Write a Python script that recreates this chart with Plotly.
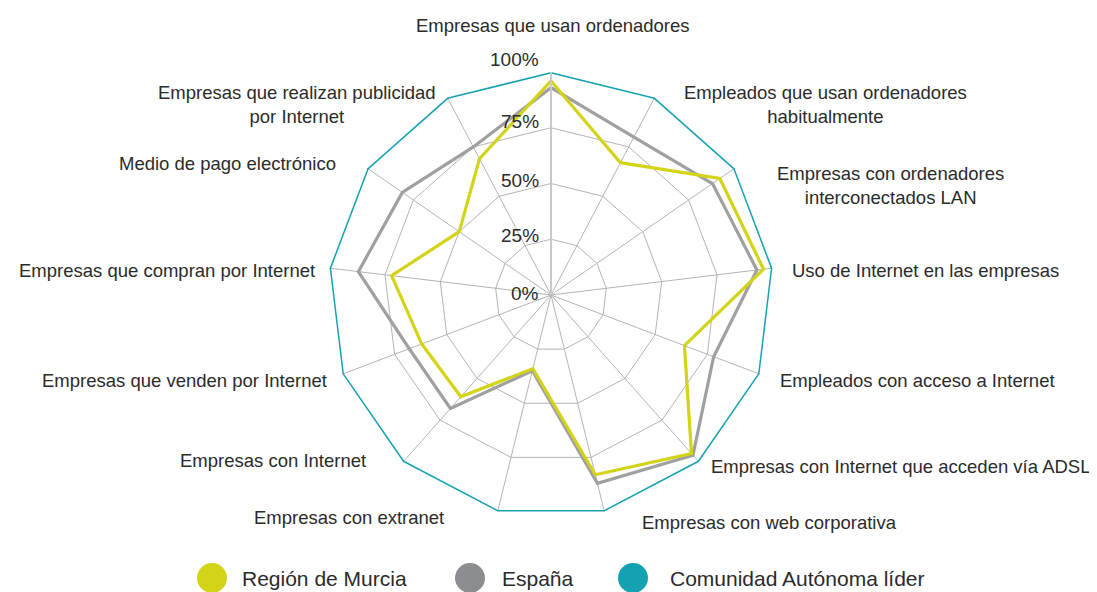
import plotly.graph_objects as go

# ---------------- data ----------------
categories = [
    "Empresas que usan ordenadores",
    "Empleados que usan ordenadores<br>habitualmente",
    "Empresas con ordenadores<br>interconectados LAN",
    "Uso de Internet en las empresas",
    "Empleados con acceso a Internet",
    "Empresas con Internet que acceden vía ADSL",
    "Empresas con web corporativa",
    "Empresas con extranet",
    "Empresas con Internet",
    "Empresas que venden por Internet",
    "Empresas que compran por Internet",
    "Medio de pago electrónico",
    "Empresas que realizan publicidad<br>por Internet",
]
murcia = [96, 67, 92, 96, 64, 95, 83, 34, 61, 62, 72, 50, 69]
espana = [93, 80, 88, 93, 78, 96, 87, 35, 68, 68, 87, 81, 75]
lider = [100, 100, 100, 100, 100, 100, 100, 100, 100, 100, 100, 100, 100]
series_names = ["Región de Murcia", "España", "Comunidad Autónoma líder"]
radial_ticks = [0, 25, 50, 75, 100]
radial_tick_labels = ["0%", "25%", "50%", "75%", "100%"]

# ---------------- styling / layout ----------------
PAGE_OFF = 8  # browser default body margin
W, H = 1097 - PAGE_OFF, 592 - PAGE_OFF
ML, MR, MT, MB = 92, 95, 64, 74
PW, PH = W - ML - MR, H - MT - MB
FONT = "Liberation Sans, Arial, sans-serif"
TXT = "#2b2b2b"
COL_MURCIA = "#d3d317"
COL_ESPANA = "#a0a0a3"
COL_ESPANA_LEG = "#8b8d8f"
COL_LIDER = "#14a2b3"
GRID = "#b4b4b4"
LABEL_SIZE = 18.5


def px_to_paper(x, y):
    """page-pixel position (as in the reference) -> paper coords"""
    x -= PAGE_OFF
    y -= PAGE_OFF
    return (x - ML) / PW, 1 - (y - MT) / PH


# label positions (page pixel) and anchors for each category
label_layout = [
    (553, 25, "center"),
    (825, 104, "center"),
    (890, 185, "center"),
    (790, 270, "left"),
    (778, 380, "left"),
    (1092, 466, "right"),
    (640, 522, "left"),
    (446, 517, "right"),
    (368, 460, "right"),
    (329, 380, "right"),
    (317, 270, "right"),
    (338, 163, "right"),
    (297, 104, "center"),
]
radial_label_y = [293, 235, 180, 121, 60]


def closed(vals):
    return list(vals) + [vals[0]]


theta_names = list(categories)
theta_closed = closed(theta_names)

fig = go.Figure()
for vals, name, col, w in [
    (espana, series_names[1], COL_ESPANA, 3.2),
    (murcia, series_names[0], COL_MURCIA, 3.2),
    (lider, series_names[2], COL_LIDER, 3),
]:
    fig.add_trace(
        go.Scatterpolar(
            r=closed(vals),
            theta=theta_closed,
            mode="lines",
            line=dict(color=col, width=w),
            name=name,
            showlegend=False,
            hoverinfo="skip",
        )
    )

fig.update_layout(
    width=W,
    height=H,
    margin=dict(l=ML, r=MR, t=MT, b=MB, autoexpand=False),
    paper_bgcolor="white",
    plot_bgcolor="white",
    font=dict(family=FONT, size=18, color=TXT),
    polar=dict(
        bgcolor="white",
        gridshape="linear",
        domain=dict(x=[0, 1], y=[0, 1]),
        angularaxis=dict(
            rotation=90,
            direction="clockwise",
            type="category",
            categoryarray=theta_names,
            showticklabels=False,
            ticks="",
            showline=False,
            gridcolor=GRID,
            gridwidth=1,
        ),
        radialaxis=dict(
            range=[0, 100],
            tickvals=radial_ticks[1:],
            showticklabels=False,
            ticks="",
            showline=True,
            linecolor="#c9c9c9",
            linewidth=2,
            angle=90,
            gridcolor=GRID,
            gridwidth=1,
        ),
    ),
)

annotations = []
for text, (x, y, anc) in zip(categories, label_layout):
    xp, yp = px_to_paper(x, y)
    annotations.append(
        dict(
            x=xp, y=yp, xref="paper", yref="paper", text=text, showarrow=False,
            xanchor=anc, yanchor="middle", align="center",
            font=dict(family=FONT, size=LABEL_SIZE, color=TXT),
        )
    )
for lab, y in zip(radial_tick_labels, radial_label_y):
    xp, yp = px_to_paper(541, y)
    annotations.append(
        dict(
            x=xp, y=yp, xref="paper", yref="paper", text=lab, showarrow=False,
            xanchor="right", yanchor="middle",
            font=dict(family=FONT, size=19, color=TXT),
        )
    )

# manual legend
legend_items = [
    (212, 240, series_names[0], COL_MURCIA),
    (470, 500, series_names[1], COL_ESPANA_LEG),
    (633, 668, series_names[2], COL_LIDER),
]
shapes = []
for cx, tx, name, col in legend_items:
    xp, yp = px_to_paper(cx, 578)
    shapes.append(
        dict(
            type="circle", xref="paper", yref="paper",
            xsizemode="pixel", ysizemode="pixel", xanchor=xp, yanchor=yp,
            x0=-15, x1=15, y0=-15, y1=15,
            fillcolor=col, line=dict(width=0),
        )
    )
    txp, typ = px_to_paper(tx, 578)
    annotations.append(
        dict(
            x=txp, y=typ, xref="paper", yref="paper", text=name, showarrow=False,
            xanchor="left", yanchor="middle",
            font=dict(family=FONT, size=21, color=TXT),
        )
    )

fig.update_layout(annotations=annotations, shapes=shapes)
fig.write_html("out.html")
